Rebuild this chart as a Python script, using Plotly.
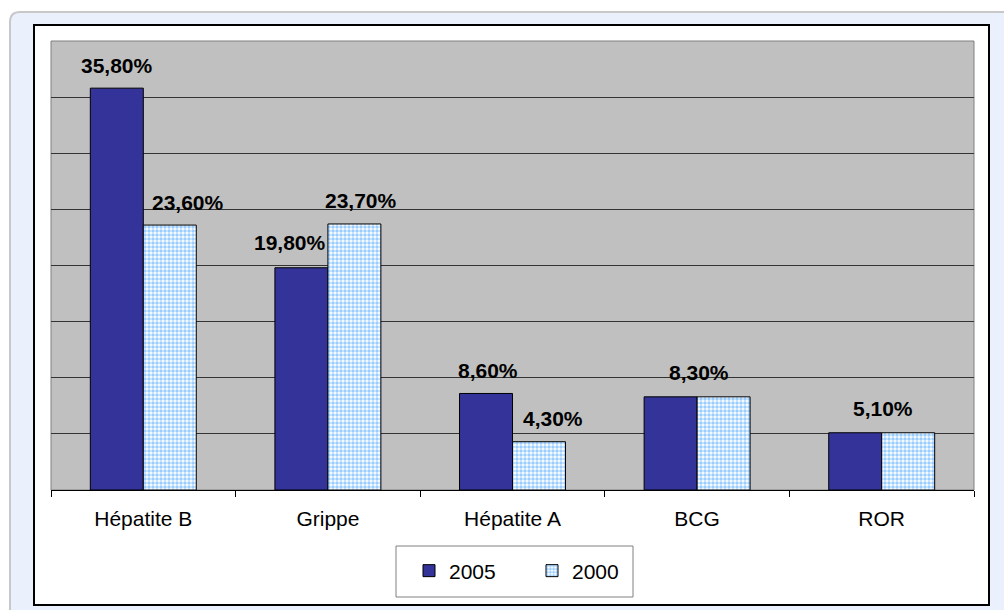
import plotly.graph_objects as go

# Vaccination rates by vaccine, 2005 vs 2000
categories = ["Hépatite B", "Grippe", "Hépatite A", "BCG", "ROR"]
values_2005 = [35.8, 19.8, 8.6, 8.3, 5.1]
values_2000 = [23.6, 23.7, 4.3, 8.3, 5.1]

W, H = 1004, 610
L, R, T, B = 51, 30, 41, 120
PW, PH = W - L - R, H - T - B

# horizontal nudges (px) of the value labels from the category centre,
# so neighbouring labels do not collide
nudge_2005 = [-26, -38, -25, 2, 1]
nudge_2000 = [45, 33, 40, 2, 1]
lift_2005 = [23, 25, 23, 24, 24]
lift_2000 = [23, 23, 23, 24, 24]


def px_x(px):
    return (px - L) / PW


def px_y(py):
    return (H - B - py) / PH


def fmt(v):
    return f"{v:.2f}%".replace(".", ",")


fig = go.Figure()
fig.add_trace(go.Bar(
    name="2005", x=categories, y=values_2005,
    marker=dict(color="#333399", line=dict(color="black", width=1)),
))
fig.add_trace(go.Bar(
    name="2000", x=categories, y=values_2000,
    marker=dict(
        color="white",
        line=dict(color="black", width=1),
        pattern=dict(shape=".", fgcolor="#99CCFF", bgcolor="white",
                     size=4, solidity=0.6, fillmode="replace"),
    ),
))

# value labels: one centred label when both years agree
annotations = []
for i, (cat, a, b) in enumerate(zip(categories, values_2005, values_2000)):
    if a == b:
        annotations.append(dict(x=cat, y=a, text=fmt(a),
                                xshift=nudge_2005[i], yshift=lift_2005[i]))
    else:
        annotations.append(dict(x=cat, y=a, text=fmt(a),
                                xshift=nudge_2005[i], yshift=lift_2005[i]))
        annotations.append(dict(x=cat, y=b, text=fmt(b),
                                xshift=nudge_2000[i], yshift=lift_2000[i]))
for an in annotations:
    an.update(xref="x", yref="y", showarrow=False, yanchor="middle",
              font=dict(family="Liberation Sans, Arial", size=21, color="black"))
    an["text"] = "<b>" + an["text"] + "</b>"

# rounded outer panel
x0, x1, y0, y1 = 10, 1014, 12, 625
r = 10
rx, ry = r / PW, r / PH
X0, X1, Y0, Y1 = px_x(x0), px_x(x1), px_y(y0), px_y(y1)
panel_path = (
    f"M {X0 + rx},{Y0} L {X1 - rx},{Y0} Q {X1},{Y0} {X1},{Y0 - ry} "
    f"L {X1},{Y1 + ry} Q {X1},{Y1} {X1 - rx},{Y1} L {X0 + rx},{Y1} "
    f"Q {X0},{Y1} {X0},{Y1 + ry} L {X0},{Y0 - ry} Q {X0},{Y0} {X0 + rx},{Y0} Z"
)

shapes = [
    dict(type="path", path=panel_path, xref="paper", yref="paper",
         fillcolor="#EAF1FD", line=dict(color="#C8C8C8", width=2), layer="below"),
    dict(type="rect", xref="paper", yref="paper",
         x0=px_x(34), x1=px_x(989), y0=px_y(25), y1=px_y(605),
         fillcolor="white", line=dict(color="black", width=2), layer="below"),
    dict(type="rect", xref="paper", yref="paper", x0=0, x1=1, y0=0, y1=1,
         fillcolor="#C0C0C0", line=dict(color="#808080", width=1), layer="below"),
    # legend frame
    dict(type="rect", xref="paper", yref="paper",
         x0=px_x(396), x1=px_x(633), y0=px_y(546), y1=px_y(597),
         fillcolor="white", line=dict(color="#808080", width=1), layer="below"),
]

fig.update_layout(
    width=W, height=H,
    margin=dict(l=L, r=R, t=T, b=B, pad=0),
    paper_bgcolor="white",
    plot_bgcolor="rgba(0,0,0,0)",
    barmode="group",
    bargap=0.426,
    bargroupgap=0,
    font=dict(family="Liberation Sans, Arial", size=21, color="black"),
    shapes=shapes,
    annotations=annotations,
    showlegend=True,
    legend=dict(
        orientation="h", x=px_x(409), xanchor="left", y=px_y(571), yanchor="middle",
        bgcolor="rgba(0,0,0,0)", borderwidth=0,
        font=dict(size=21), entrywidth=78, traceorder="normal",
    ),
    xaxis=dict(
        showline=True, linecolor="black", linewidth=1,
        ticks="outside", ticklen=6, tickcolor="black", tickson="boundaries",
        ticklabelstandoff=10,
        showgrid=False, zeroline=False, fixedrange=True,
        tickfont=dict(size=21),
    ),
    yaxis=dict(
        range=[0, 40], dtick=5, showgrid=True, gridcolor="#333333", gridwidth=1,
        showticklabels=False, zeroline=False, showline=False, fixedrange=True,
    ),
)

fig.write_html("out.html")
